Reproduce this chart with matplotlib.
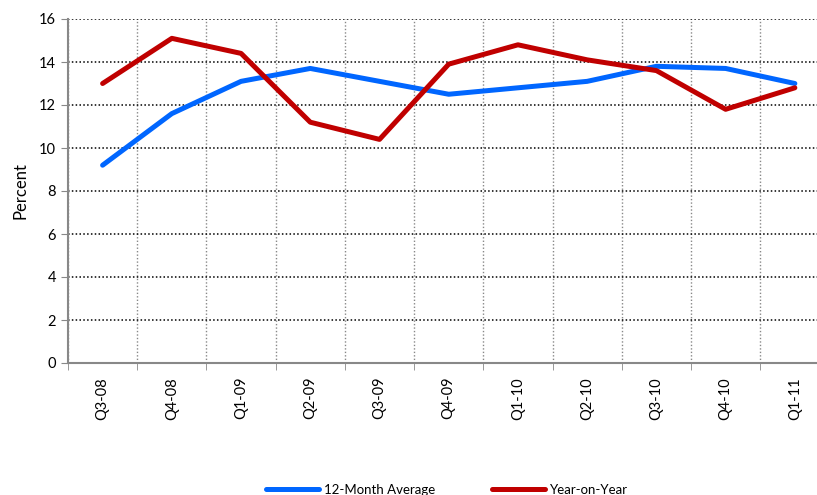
import matplotlib
matplotlib.use("Agg")
import matplotlib.pyplot as plt
import numpy as np

# ─── data ────────────────────────────────────────────────────────────
quarters = ["Q3-08", "Q4-08", "Q1-09", "Q2-09", "Q3-09", "Q4-09",
            "Q1-10", "Q2-10", "Q3-10", "Q4-10", "Q1-11"]
avg_12m = [9.2, 11.6, 13.1, 13.7, 13.1, 12.5, 12.8, 13.1, 13.8, 13.7, 13.0]
yoy     = [13.0, 15.1, 14.4, 11.2, 10.4, 13.9, 14.8, 14.1, 13.6, 11.8, 12.8]

plt.rcParams["font.family"] = ["Lato", "DejaVu Sans"]

fig = plt.figure(figsize=(8.17, 4.95), dpi=100)
ax = fig.add_axes([68/817, 1 - 363/495, 1 - 68/817, (363 - 19)/495])

x = np.arange(len(quarters))
ax.plot(x, avg_12m, color="#0066FF", lw=3.6, label="12-Month Average",
        solid_capstyle="round", solid_joinstyle="round", zorder=3)
ax.plot(x, yoy, color="#C00000", lw=3.6, label="Year-on-Year",
        solid_capstyle="round", solid_joinstyle="round", zorder=4)

ax.set_yticks(range(0, 17, 2))
ax.set_xticks(x)
ax.set_xticklabels(quarters, rotation=90, fontsize=10.5)
ax.set_xticks(np.arange(-0.5, 11, 1), minor=True)
# set limits after the ticks, the right part of the last category is cut off
ax.set_xlim(-0.5, 10.32)
ax.set_ylim(0, 16)
ax.tick_params(axis="x", which="major", length=0, pad=10)
ax.tick_params(axis="x", which="minor", length=5, color="#888888", direction="out")
ax.tick_params(axis="y", length=5, color="#888888", labelsize=10.5)

ax.grid(True, axis="y", color="black", ls=(0, (1, 1.5)), lw=1.1)
ax.grid(True, axis="x", which="minor", color="#888888", ls=(0, (1, 1.5)), lw=1.0)
ax.set_axisbelow(True)

for s in ["top", "right"]:
    ax.spines[s].set_visible(False)
for s in ["left", "bottom"]:
    ax.spines[s].set_color("#888888")
    ax.spines[s].set_linewidth(1.5)

ax.set_ylabel("Percent", fontsize=12, labelpad=8)

fig.legend(loc="center left", bbox_to_anchor=(266/817, 1 - 490/495), ncol=2,
           frameon=False, fontsize=9.5, handlelength=4.0, columnspacing=4.3,
           handletextpad=0.4, borderpad=0, borderaxespad=0)

fig.savefig("out.png", dpi=100)
